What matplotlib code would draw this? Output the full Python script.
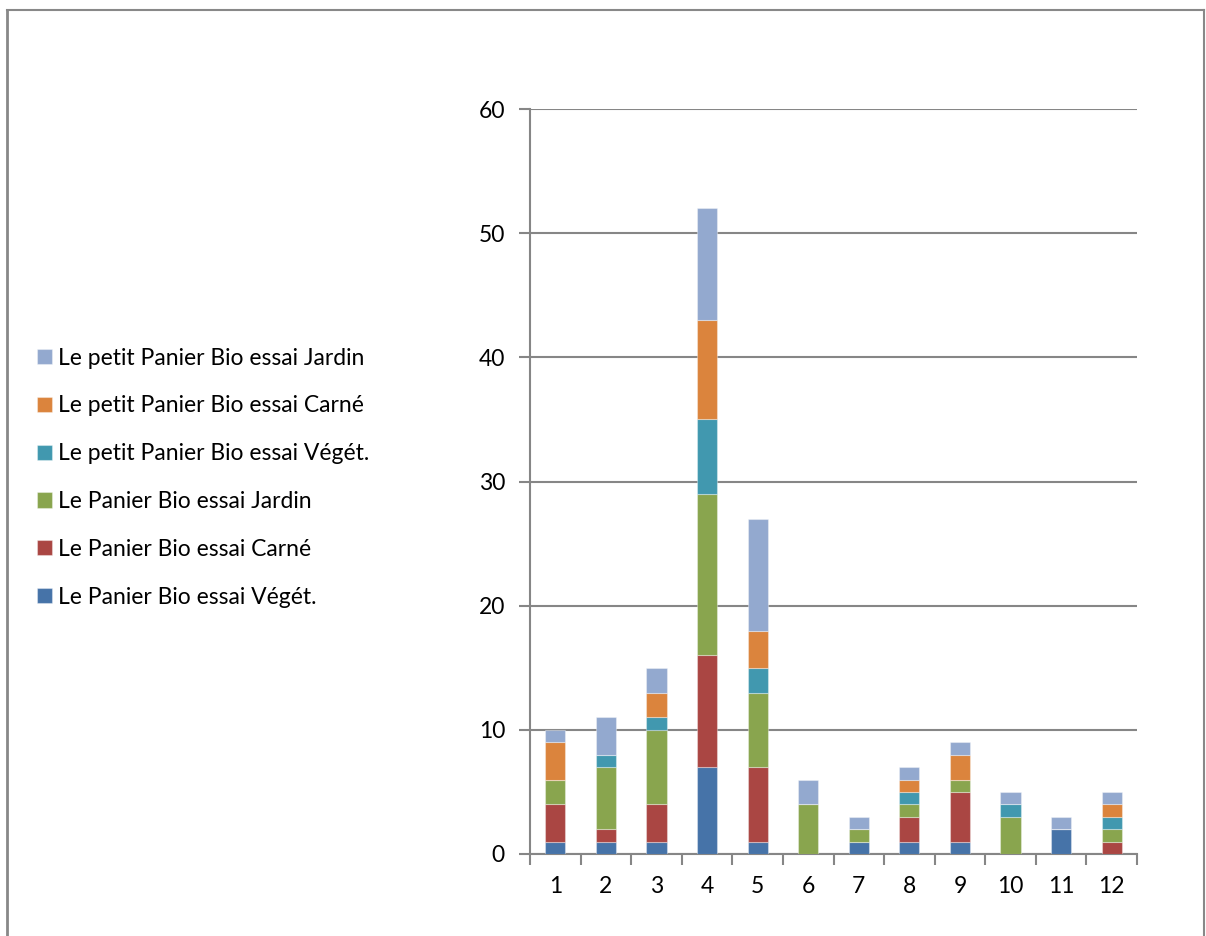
import numpy as np
import matplotlib
matplotlib.use('Agg')
import matplotlib.pyplot as plt
from matplotlib.lines import Line2D

plt.rcParams['font.family'] = ['Lato', 'DejaVu Sans']

# Données
categories = ['1', '2', '3', '4', '5', '6', '7', '8', '9', '10', '11', '12']
series_names = ['Le Panier Bio essai Végét.',
                'Le Panier Bio essai Carné',
                'Le Panier Bio essai Jardin',
                'Le petit Panier Bio essai Végét.',
                'Le petit Panier Bio essai Carné',
                'Le petit Panier Bio essai Jardin']
veg = [1, 1, 1, 7, 1, 0, 1, 1, 1, 0, 2, 0]
carne = [3, 1, 3, 9, 6, 0, 0, 2, 4, 0, 0, 1]
jardin = [2, 5, 6, 13, 6, 4, 1, 1, 1, 3, 0, 1]
p_veg = [0, 1, 1, 6, 2, 0, 0, 1, 0, 1, 0, 1]
p_carne = [3, 0, 2, 8, 3, 0, 0, 1, 2, 0, 0, 1]
p_jardin = [1, 3, 2, 9, 9, 2, 1, 1, 1, 1, 1, 1]
colors = ['#4673A8', '#AA4643', '#89A54E', '#4198AF', '#DB843D', '#93A9CF']

series = [veg, carne, jardin, p_veg, p_carne, p_jardin]

fig = plt.figure(figsize=(12.06, 9.36), dpi=100)
ax = fig.add_axes([530 / 1206, 82 / 936, 607 / 1206, 745 / 936])

x = np.arange(1, len(categories) + 1)
bottom = np.zeros(len(categories))
handles = []
for vals, name, col in zip(series, series_names, colors):
    b = ax.bar(x, vals, 0.4, bottom=bottom, color=col, label=name,
               edgecolor=(1, 1, 1, 0.35), linewidth=0.8, zorder=3)
    bottom += np.array(vals)
    handles.append(b)

grey = '#868686'
fs = 16.5
ax.set_xlim(0.5, 12.5)
ax.set_ylim(0, 60)
ax.set_yticks(range(0, 61, 10))
ax.set_xticks(x)
ax.set_xticklabels(categories)
ax.set_xticks(np.arange(0.5, 12.6, 1), minor=True)
ax.yaxis.grid(True, color=grey, linewidth=1.5, zorder=0)
for s in ['top', 'right']:
    ax.spines[s].set_visible(False)
for s in ['left', 'bottom']:
    ax.spines[s].set_color(grey)
    ax.spines[s].set_linewidth(1.5)
ax.tick_params(axis='x', which='major', length=0, pad=16, labelsize=fs)
ax.tick_params(axis='x', which='minor', length=8, width=1.5, color=grey)
ax.tick_params(axis='y', length=8, width=1.5, color=grey, pad=10, labelsize=fs)

# Légende à gauche (ordre inversé comme dans Excel)
leg = fig.legend(handles[::-1], series_names[::-1], loc='upper left',
                 bbox_to_anchor=(16 / 1206, 1 - 327 / 936), frameon=False,
                 fontsize=fs, handlelength=0.65, handleheight=0.65,
                 handletextpad=0.3, labelspacing=1.17)

# cadre du graphique
fig.add_artist(Line2D([7 / 1206, 7 / 1206], [0, 1 - 10 / 936],
                      color='#888888', linewidth=2, transform=fig.transFigure))
fig.add_artist(Line2D([7 / 1206, 1204 / 1206], [1 - 10 / 936, 1 - 10 / 936],
                      color='#888888', linewidth=1.5, transform=fig.transFigure))
fig.add_artist(Line2D([1204 / 1206, 1204 / 1206], [0, 1 - 10 / 936],
                      color='#888888', linewidth=1.5, transform=fig.transFigure))

fig.savefig('out.png', dpi=100)
